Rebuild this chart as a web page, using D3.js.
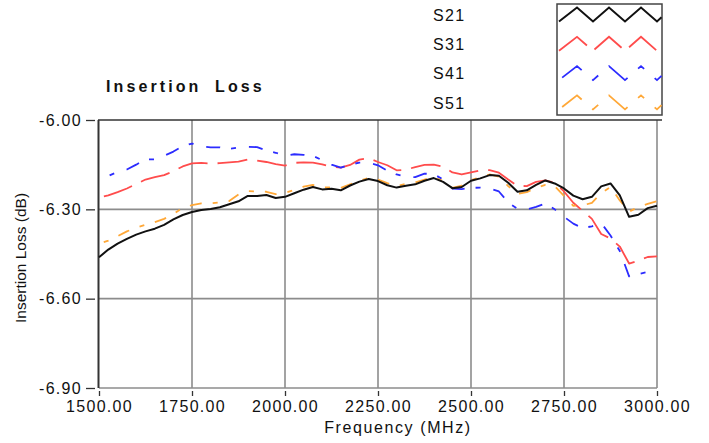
<!DOCTYPE html>
<html>
<head>
<meta charset="utf-8">
<script src="https://cdn.jsdelivr.net/npm/d3@7"></script>
<style>
body { margin: 0; background: #fff; }
svg text { font-family: "Liberation Sans", Arial, sans-serif; fill: #111; }
</style>
</head>
<body>
<svg id="chart" width="709" height="443"></svg>
<script>
// frequencies (MHz), one point every 25 MHz
var freqs = [1500,1525,1550,1575,1600,1625,1650,1675,1700,1725,
  1750,1775,1800,1825,1850,1875,1900,1925,1950,1975,
  2000,2025,2050,2075,2100,2125,2150,2175,2200,2225,
  2250,2275,2300,2325,2350,2375,2400,2425,2450,2475,
  2500,2525,2550,2575,2600,2625,2650,2675,2700,2725,
  2750,2775,2800,2825,2850,2875,2900,2925,2950,2975,3000];

var s21 = [-6.461,-6.435,-6.415,-6.399,-6.385,-6.374,-6.365,-6.352,-6.334,-6.319,
  -6.309,-6.302,-6.299,-6.293,-6.283,-6.273,-6.255,-6.255,-6.252,-6.262,
  -6.258,-6.246,-6.234,-6.225,-6.233,-6.231,-6.236,-6.220,-6.207,-6.198,
  -6.205,-6.219,-6.227,-6.221,-6.216,-6.204,-6.195,-6.208,-6.229,-6.225,
  -6.204,-6.196,-6.185,-6.187,-6.211,-6.241,-6.236,-6.218,-6.203,-6.213,
  -6.230,-6.254,-6.266,-6.258,-6.223,-6.213,-6.253,-6.325,-6.318,-6.296,-6.288];

var s31 = [-6.260,-6.253,-6.242,-6.230,-6.215,-6.200,-6.192,-6.185,-6.172,-6.156,
  -6.146,-6.144,-6.146,-6.145,-6.142,-6.140,-6.133,-6.136,-6.141,-6.148,
  -6.153,-6.144,-6.142,-6.143,-6.149,-6.157,-6.160,-6.151,-6.133,-6.128,
  -6.141,-6.152,-6.169,-6.167,-6.158,-6.151,-6.150,-6.157,-6.176,-6.183,
  -6.176,-6.169,-6.168,-6.177,-6.200,-6.221,-6.222,-6.208,-6.203,-6.210,
  -6.240,-6.278,-6.305,-6.332,-6.383,-6.398,-6.425,-6.482,-6.472,-6.460,-6.458];

var s41 = [-6.195,-6.188,-6.174,-6.166,-6.150,-6.132,-6.132,-6.120,-6.106,-6.088,
  -6.079,-6.088,-6.092,-6.092,-6.097,-6.092,-6.090,-6.091,-6.102,-6.110,
  -6.120,-6.115,-6.117,-6.120,-6.135,-6.150,-6.160,-6.150,-6.143,-6.143,
  -6.152,-6.170,-6.183,-6.190,-6.192,-6.180,-6.182,-6.200,-6.230,-6.232,
  -6.228,-6.227,-6.230,-6.240,-6.277,-6.298,-6.300,-6.292,-6.280,-6.300,
  -6.325,-6.348,-6.363,-6.357,-6.346,-6.388,-6.440,-6.525,-6.518,-6.510,-6.500];

var s51 = [-6.415,-6.405,-6.390,-6.374,-6.362,-6.352,-6.343,-6.332,-6.316,-6.295,
  -6.286,-6.280,-6.280,-6.277,-6.272,-6.250,-6.239,-6.240,-6.241,-6.249,
  -6.245,-6.235,-6.224,-6.218,-6.227,-6.226,-6.228,-6.216,-6.205,-6.194,
  -6.200,-6.212,-6.222,-6.214,-6.210,-6.200,-6.192,-6.205,-6.228,-6.220,
  -6.202,-6.192,-6.183,-6.190,-6.222,-6.248,-6.242,-6.228,-6.218,-6.222,
  -6.255,-6.288,-6.287,-6.278,-6.246,-6.225,-6.270,-6.308,-6.292,-6.282,-6.273];

var seriesNames = ["S21", "S31", "S41", "S51"];
var seriesValues = [s21, s31, s41, s51];

var xTicks = [1500, 1750, 2000, 2250, 2500, 2750, 3000];
var yTicks = [-6.00, -6.30, -6.60, -6.90];

// look of each trace
var colors = ["#111111", "#ff4c4c", "#2c2cff", "#ffa838"];
var dashes = [null, "30,10", "5,13,14,11", "12,11,5,11"];
var dashOff = [0, 35, 32, 18];
var legendDash = [null, "36,10", "8,14,25,14", "8,14,25,14"];
var legendOff = [0, 0, 18, 18];

var svg = d3.select("#chart");

var x = d3.scaleLinear().domain([1500, 3000]).range([99, 657]);
var y = d3.scaleLinear().domain([-6.9, -6.0]).range([388, 120]);

// grid
svg.append("g")
  .selectAll("line")
  .data(xTicks.slice(1))
  .join("line")
    .attr("x1", d => x(d)).attr("x2", d => x(d))
    .attr("y1", y(-6.0)).attr("y2", y(-6.9))
    .attr("stroke", "#8c8c8c")
    .attr("stroke-width", 1.6);

svg.append("g")
  .selectAll("line")
  .data(yTicks.slice(1))
  .join("line")
    .attr("x1", x(1500)).attr("x2", x(3000))
    .attr("y1", d => y(d)).attr("y2", d => y(d))
    .attr("stroke", "#8c8c8c")
    .attr("stroke-width", 1.6);

// frame: dark top and left edges
svg.append("line")
  .attr("x1", 98).attr("x2", 662)
  .attr("y1", y(-6.0)).attr("y2", y(-6.0))
  .attr("stroke", "#333").attr("stroke-width", 1.6);
svg.append("line")
  .attr("x1", 98.5).attr("x2", 98.5)
  .attr("y1", y(-6.0)).attr("y2", y(-6.9))
  .attr("stroke", "#333").attr("stroke-width", 2);

// axes
var yAxis = g => g
  .attr("transform", "translate(95,0)")
  .call(d3.axisLeft(y).tickValues(yTicks).tickFormat(d => d.toFixed(2)).tickSize(9).tickPadding(4))
  .call(g => g.select(".domain").remove())
  .call(g => g.selectAll(".tick line").attr("stroke", "#333").attr("stroke-width", 1.3))
  .call(g => g.selectAll(".tick text")
    .attr("fill", "#111")
    .style("font-family", "'Liberation Sans', Arial, sans-serif")
    .style("font-size", "16px")
    .style("letter-spacing", "1.3px"));

var xAxis = g => g
  .attr("transform", "translate(0,391)")
  .call(d3.axisBottom(x).tickValues(xTicks).tickFormat(d => d.toFixed(2)).tickSize(5).tickPadding(5))
  .call(g => g.select(".domain").remove())
  .call(g => g.selectAll(".tick line").attr("stroke", "#333").attr("stroke-width", 1.3))
  .call(g => g.selectAll(".tick text")
    .attr("fill", "#111")
    .style("font-family", "'Liberation Sans', Arial, sans-serif")
    .style("font-size", "16px")
    .style("letter-spacing", "1.3px"));

svg.append("g").call(yAxis);
svg.append("g").call(xAxis);

// traces
var line = d3.line()
  .x((d, i) => x(freqs[i]))
  .y(d => y(d));

// draw the dashed ones first, S21 on top
[1, 2, 3, 0].forEach(function(k){
  svg.append("path")
    .datum(seriesValues[k])
    .attr("fill", "none")
    .attr("stroke", colors[k])
    .attr("stroke-width", k == 0 ? 2 : 1.8)
    .attr("stroke-linejoin", "round")
    .attr("stroke-dasharray", dashes[k])
    .attr("stroke-dashoffset", dashOff[k])
    .attr("d", line);
});

// titles
svg.append("text")
  .attr("x", 106).attr("y", 91.5)
  .style("font-size", "16px")
  .style("font-weight", "bold")
  .style("letter-spacing", "3.1px")
  .style("word-spacing", "6px")
  .text("Insertion Loss");

svg.append("text")
  .attr("transform", "translate(26,258) rotate(-90)")
  .attr("text-anchor", "middle")
  .style("font-size", "15.5px")
  .text("Insertion Loss (dB)");

svg.append("text")
  .attr("x", 398).attr("y", 433)
  .attr("text-anchor", "middle")
  .style("font-size", "16px")
  .style("letter-spacing", "1.6px")
  .text("Frequency (MHz)");

// legend
var legend = svg.append("g");
legend.append("rect")
  .attr("x", 557).attr("y", 4)
  .attr("width", 105).attr("height", 111)
  .attr("fill", "#fff")
  .attr("stroke", "#444")
  .attr("stroke-width", 1.5);

var zig = [[559, 1], [577, -1], [593, 1], [609, -1], [625, 1], [641, -1], [657, 1], [661.5, 0.4]];
var zigLine = d3.line().x(d => d[0]).y(d => d[1]);

seriesNames.forEach(function(name, k){
  var cy = 14.5 + k * 29.3;
  legend.append("text")
    .attr("x", 433).attr("y", cy + 6.3)
    .style("font-size", "16px")
    .style("letter-spacing", "1.3px")
    .text(name);
  legend.append("path")
    .attr("d", zigLine(zig.map(p => [p[0], cy + p[1] * 7])))
    .attr("fill", "none")
    .attr("stroke", colors[k])
    .attr("stroke-width", k == 0 ? 2 : 1.8)
    .attr("stroke-dasharray", legendDash[k])
    .attr("stroke-dashoffset", legendOff[k]);
});
</script>
</body>
</html>
